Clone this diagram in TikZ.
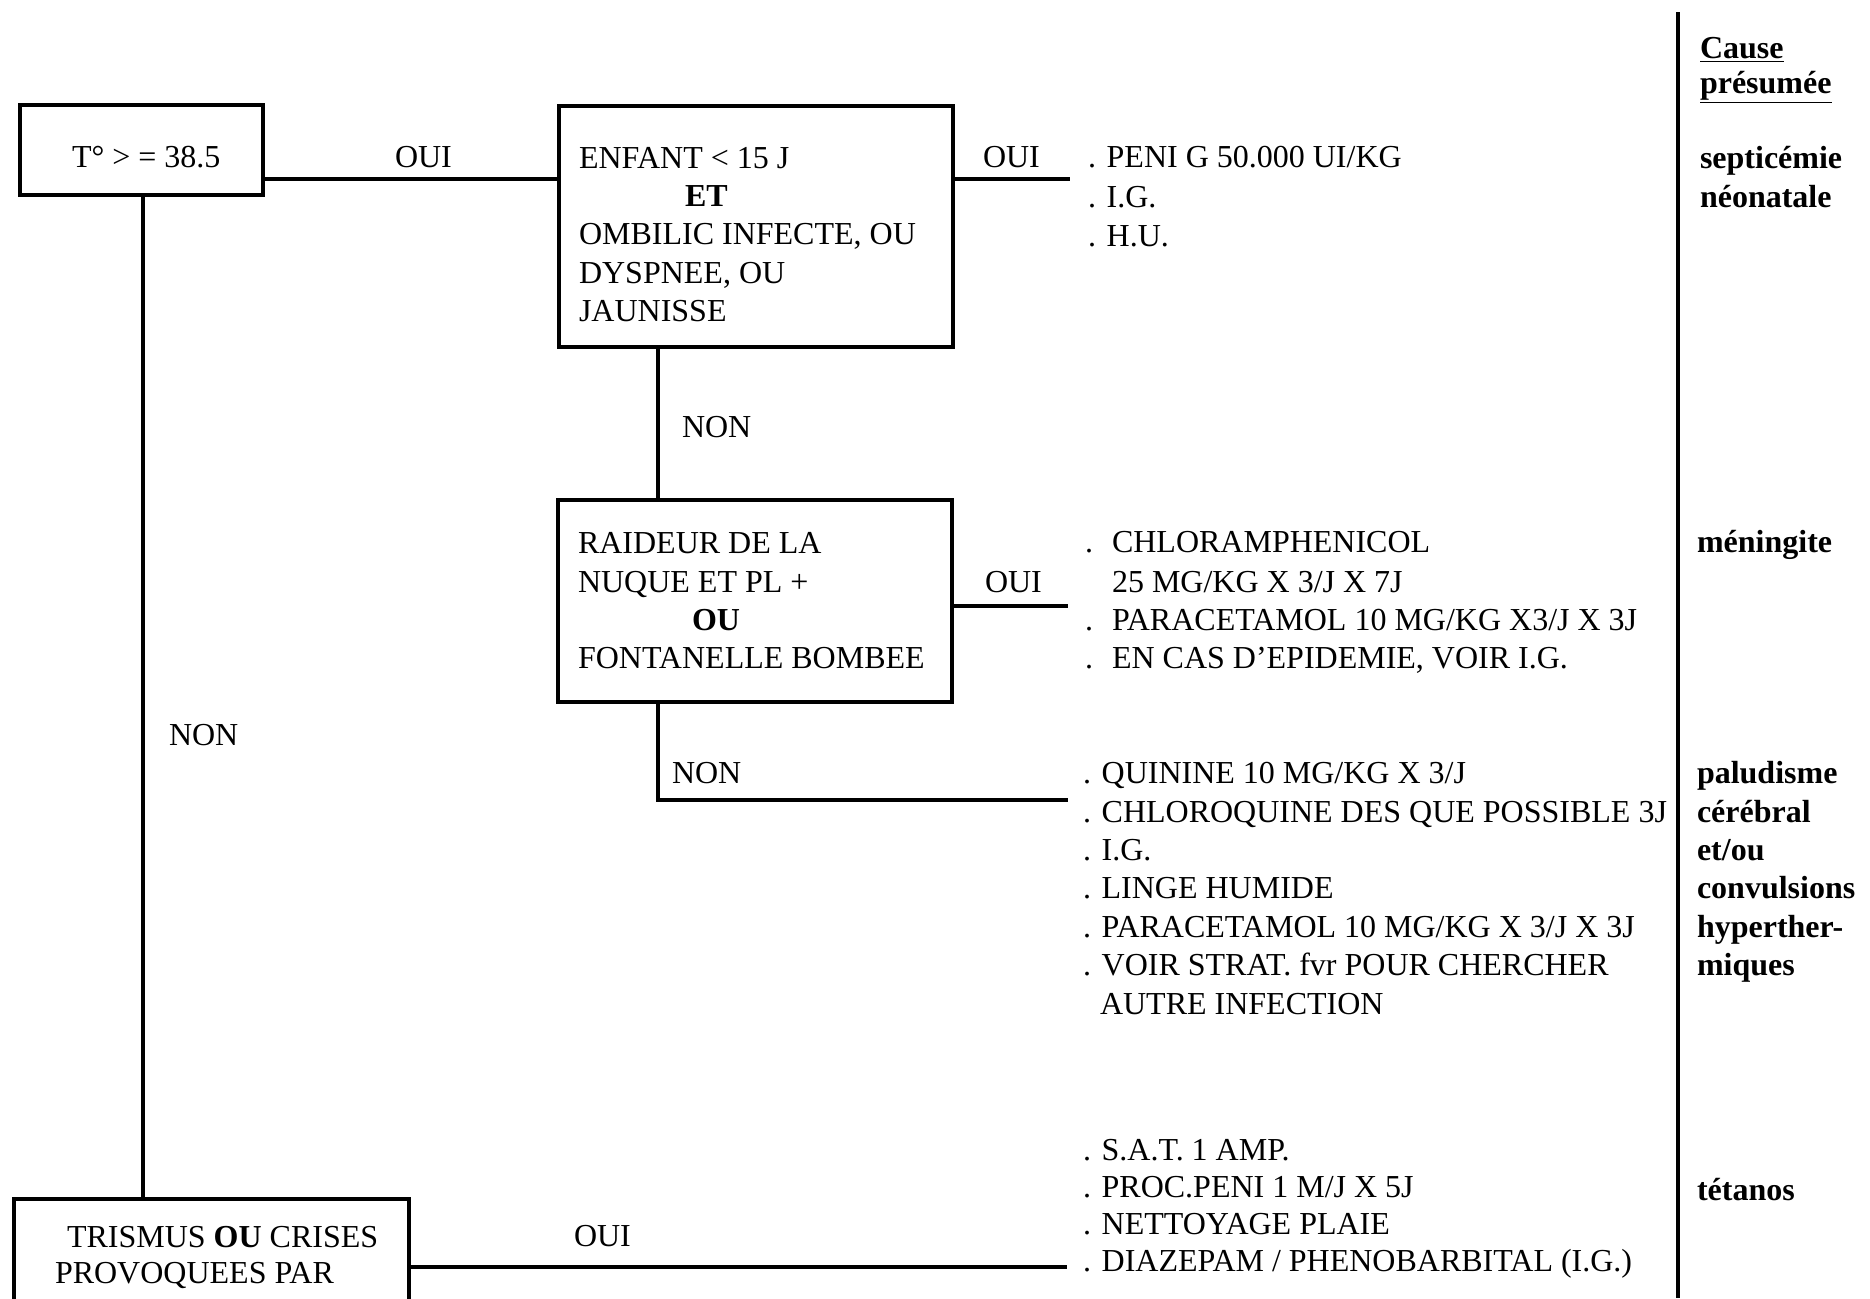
\documentclass[tikz,border=0pt]{standalone}
\usepackage{fontspec}
\setmainfont{Liberation Serif}
\begin{document}
\begin{tikzpicture}[x=0.5pt,y=-0.5pt,
  box/.style={draw,line width=2.3pt,rectangle,inner sep=0,outer sep=0},
  conn/.style={line width=2.3pt},
  txt/.style={anchor=base west,inner sep=0,outer sep=0,font=\fontsize{16}{19}\selectfont},
  cause/.style={anchor=base west,inner sep=0,outer sep=0,font=\fontsize{16}{19}\selectfont\bfseries}]
\useasboundingbox (0,0) rectangle (1870,1298);
\clip (0,0) rectangle (1870,1298);

% boxes
\node[box,minimum width=121.5pt,minimum height=45pt] (b1) at (141.5,150) {};
\node[box,minimum width=197pt,minimum height=120.5pt] (b2) at (756,226.5) {};
\node[box,minimum width=197pt,minimum height=101pt] (b3) at (755,601) {};
\node[box,minimum width=197.5pt,minimum height=70.5pt] (b4) at (211.5,1269.5) {};

% connectors
\coordinate (y1) at (0,179);
\coordinate (x1) at (143,0);
\coordinate (x2) at (658,0);
\coordinate (e1) at (1070,179);
\coordinate (e2) at (1068,606);
\coordinate (e3) at (1068,800);
\coordinate (e4) at (1067,1267);
\coordinate (vt) at (1678,12);
\coordinate (vb) at (1678,1298);
\draw[conn] (b1.east |- y1) -- (b2.west |- y1);
\draw[conn] (b2.east |- e1) -- (e1);
\draw[conn] (b2.south -| x2) -- (b3.north -| x2);
\draw[conn] (b3.east |- e2) -- (e2);
\draw[conn] (b3.south -| x2) |- (e3);
\draw[conn] (b1.south -| x1) -- (b4.north -| x1);
\draw[conn] (b4.east |- e4) -- (e4);
\draw[conn] (vt) -- (vb);

% connector labels
\node[txt] (l1) at (395,167) {OUI};
\node[txt] (l2) at (983,167) {OUI};
\node[txt] (l3) at (682,437) {NON};
\node[txt] (l4) at (985,592) {OUI};
\node[txt] (l5) at (672,783) {NON};
\node[txt] (l6) at (169,745) {NON};
\node[txt] (l7) at (574,1246) {OUI};

% box texts
\node[txt] (t1) at (72,167) {T° > = 38.5};
\node[txt] (t2a) at (579,168) {ENFANT < 15 J};
\node[txt] (t2b) at (685,206) {\textbf{ET}};
\node[txt] (t2c) at (579,244) {OMBILIC INFECTE, OU};
\node[txt] (t2d) at (579,283) {DYSPNEE, OU};
\node[txt] (t2e) at (579,321) {JAUNISSE};
\node[txt] (t3a) at (578,553) {RAIDEUR DE LA};
\node[txt] (t3b) at (578,592) {NUQUE ET PL +};
\node[txt] (t3c) at (692,630) {\textbf{OU}};
\node[txt] (t3d) at (578,668) {FONTANELLE BOMBEE};
\node[txt] (t4a) at (67,1247) {TRISMUS \textbf{OU} CRISES};
\node[txt] (t4b) at (55,1283) {PROVOQUEES PAR};

% treatments 1
\node[txt] (r1a) at (1088,167) {. PENI G 50.000 UI/KG};
\node[txt] (r1b) at (1088,207) {. I.G.};
\node[txt] (r1c) at (1088,246) {. H.U.};
% treatments 2
\node[txt] (d2a) at (1085,552) {.};
\node[txt] (r2a) at (1112,552) {CHLORAMPHENICOL};
\node[txt] (r2b) at (1112,592) {25 MG/KG X 3/J X 7J};
\node[txt] (d2c) at (1085,630) {.};
\node[txt] (r2c) at (1112,630) {PARACETAMOL 10 MG/KG X3/J X 3J};
\node[txt] (d2d) at (1085,668) {.};
\node[txt] (r2d) at (1112,668) {EN CAS D'EPIDEMIE, VOIR I.G.};
% treatments 3
\node[txt] (r3a) at (1083,783) {. QUININE 10 MG/KG X 3/J};
\node[txt] (r3b) at (1083,822) {. CHLOROQUINE DES QUE POSSIBLE 3J};
\node[txt] (r3c) at (1083,860) {. I.G.};
\node[txt] (r3d) at (1083,898) {. LINGE HUMIDE};
\node[txt] (r3e) at (1083,937) {. PARACETAMOL 10 MG/KG X 3/J X 3J};
\node[txt] (r3f) at (1083,975) {. VOIR STRAT. fvr POUR CHERCHER};
\node[txt] (r3g) at (1100,1014) {AUTRE INFECTION};
% treatments 4
\node[txt] (r4a) at (1083,1160) {. S.A.T. 1 AMP.};
\node[txt] (r4b) at (1083,1197) {. PROC.PENI 1 M/J X 5J};
\node[txt] (r4c) at (1083,1234) {. NETTOYAGE PLAIE};
\node[txt] (r4d) at (1083,1271) {. DIAZEPAM / PHENOBARBITAL (I.G.)};

% cause column
\node[cause] (c0a) at (1700,58) {\underline{Cause}};
\node[cause] (c0b) at (1700,93) {\underline{présumée}};
\node[cause] (c1a) at (1700,168) {septicémie};
\node[cause] (c1b) at (1700,207) {néonatale};
\node[cause] (c2) at (1697,552) {méningite};
\node[cause] (c3a) at (1697,783) {paludisme};
\node[cause] (c3b) at (1697,822) {cérébral};
\node[cause] (c3c) at (1697,860) {et/ou};
\node[cause] (c3d) at (1697,898) {convulsions};
\node[cause] (c3e) at (1697,937) {hyperther-};
\node[cause] (c3f) at (1697,975) {miques};
\node[cause] (c4) at (1697,1200) {tétanos};
\end{tikzpicture}
\end{document}
